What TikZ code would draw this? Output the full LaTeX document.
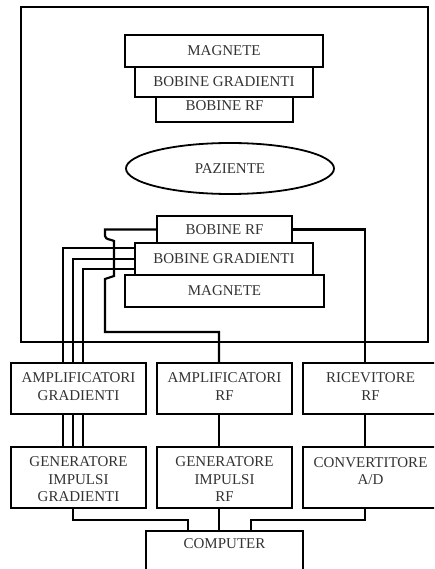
\documentclass[tikz,border=0pt]{standalone}
\usepackage{fontspec}
\setmainfont{Liberation Serif}
\usetikzlibrary{shapes.geometric}
\begin{document}
\begin{tikzpicture}[x=1pt,y=-1pt,
  every node/.style={font=\fontsize{15}{17.5}\selectfont, text=black!80, inner sep=0pt, align=center},
  box/.style={draw=black, line width=2.2pt, rectangle},
  wire/.style={draw=black, line width=2.2pt},
  lbl/.style={}]
\useasboundingbox (0,0) rectangle (434,569);
\clip (0,0) rectangle (434,569);
% outer enclosure
\node[box, minimum width=407, minimum height=335] (room) at (224.5,174.5) {};
% top stack
\node[box, minimum width=198, minimum height=32] (magT) at (224,51) {MAGNETE};
\node[box, minimum width=178, minimum height=30, fill=white] (gdT) at (224,82) {BOBINE GRADIENTI};
\node[box, minimum width=137, minimum height=25] (rfT) at (224.5,109.5) {};
\node[lbl] (rfTt) at (224.5,106) {BOBINE RF};
% patient
\node[draw=black, line width=1.8pt, ellipse, minimum width=208, minimum height=51] (paz) at (230,168.5) {PAZIENTE};
% bottom stack
\node[box, minimum width=135, minimum height=27] (rfL) at (224.5,229.5) {BOBINE RF};
\node[box, minimum width=178, minimum height=32, fill=white] (gdL) at (224,259) {BOBINE GRADIENTI};
\node[box, minimum width=199, minimum height=32] (magL) at (224.5,291) {MAGNETE};
% amplifier row
\node[box, minimum width=135, minimum height=51] (ampG) at (78.5,388.5) {};
\node[lbl] (ampGt) at (78.5,386.5) {AMPLIFICATORI\\GRADIENTI};
\node[box, minimum width=135, minimum height=51] (ampRF) at (224.5,388.5) {};
\node[lbl] (ampRFt) at (224.5,386.5) {AMPLIFICATORI\\RF};
\node[box, minimum width=135, minimum height=51] (ric) at (370.5,388.5) {};
\node[lbl] (rict) at (370.5,386.5) {RICEVITORE\\RF};
% generator row
\node[box, minimum width=135, minimum height=61] (genG) at (78.5,477.5) {};
\node[lbl] (genGt) at (78.5,479.5) {GENERATORE\\IMPULSI\\GRADIENTI};
\node[box, minimum width=135, minimum height=61] (genRF) at (224.5,477.5) {};
\node[lbl] (genRFt) at (224.5,479.5) {GENERATORE\\IMPULSI\\RF};
\node[box, minimum width=135, minimum height=61] (conv) at (370.5,477.5) {};
\node[lbl] (convt) at (370.5,471) {CONVERTITORE\\A/D};
% computer
\node[box, minimum width=157, minimum height=80] (comp) at (224.5,571) {};
\node[lbl] (compt) at (224.5,544) {COMPUTER};
% helper x positions
\coordinate (g1) at (63,0);
\coordinate (g2) at (73,0);
\coordinate (g3) at (83,0);
\coordinate (rx) at (365,0);
\coordinate (cx) at (219,0);
\coordinate (lx) at (188,0);
\coordinate (ry) at (251,0);
% gradient wires
\draw[wire] ([yshift=11pt]gdL.west) -| (g1 |- ampG.north);
\draw[wire] (gdL.west) -| (g2 |- ampG.north);
\draw[wire] ([yshift=-10pt]gdL.west) -| (g3 |- ampG.north);
\draw[wire] (g1 |- ampG.south) -- (g1 |- genG.north);
\draw[wire] (g2 |- ampG.south) -- (g2 |- genG.north);
\draw[wire] (g3 |- ampG.south) -- (g3 |- genG.north);
% RF transmit wire
\draw[wire] (rfL.west) -| (105,236) .. controls (106,240) and (110,239) .. (114,241) -- (114,276) -- (105,279) -- (105,332) -| (cx |- ampRF.north);
% RF receive wire
\draw[wire] (rfL.east) -| (rx |- ric.north);
\draw[wire] (cx |- ampRF.south) -- (cx |- genRF.north);
\draw[wire] (rx |- ric.south) -- (rx |- conv.north);
% to computer
\draw[wire] (g2 |- genG.south) |- (188,520) -- (lx |- comp.north);
\draw[wire] (cx |- genRF.south) -- (cx |- comp.north);
\draw[wire] (rx |- conv.south) |- (251,520) -- (ry |- comp.north);
\end{tikzpicture}
\end{document}
